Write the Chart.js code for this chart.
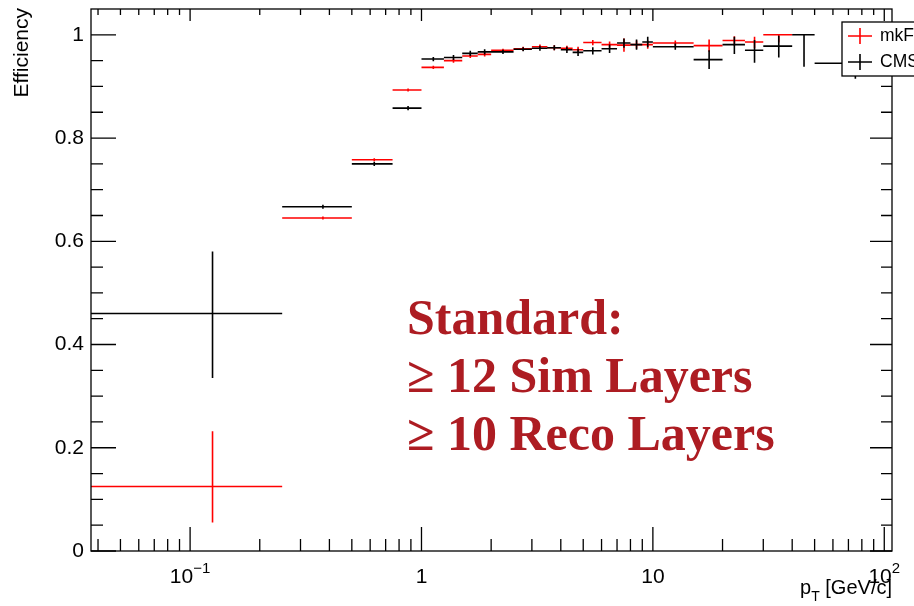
<!DOCTYPE html>
<html><head><meta charset="utf-8">
<script src="https://cdn.jsdelivr.net/npm/chart.js@4.4.1/dist/chart.umd.min.js"></script>
<style>html,body{margin:0;padding:0;background:#fff;overflow:hidden}#wrap{width:914px;height:606px}</style>
</head><body><div id="wrap"><canvas id="c" width="914" height="606"></canvas></div>
<script>
// ---- data ----
const binLow  = [0,0.25,0.5,0.75,1,1.25,1.5,1.75,2,2.5,3,3.5,4,4.5,5,6,7,8,9,10,15,20,25,30,40,50];
const binHigh = [0.25,0.5,0.75,1,1.25,1.5,1.75,2,2.5,3,3.5,4,4.5,5,6,7,8,9,10,15,20,25,30,40,50,100];

const mkFitEff     = [0.125,0.645,0.758,0.893,0.937,0.950,0.959,0.962,0.970,0.973,0.977,0.975,0.974,0.971,0.985,0.981,0.980,0.981,0.981,0.984,0.979,0.989,0.986,1.000,null,null];
const mkFitErrLow  = [0.070,0.003,0.003,0.003,0.003,0.004,0.004,0.004,0.003,0.004,0.004,0.005,0.005,0.006,0.005,0.006,0.013,0.008,0.008,0.005,0.012,0.010,0.012,0.015,null,null];
const mkFitErrHigh = [0.107,0.003,0.003,0.003,0.003,0.004,0.004,0.004,0.003,0.004,0.004,0.005,0.005,0.006,0.005,0.006,0.013,0.008,0.008,0.005,0.012,0.008,0.010,0.000,null,null];

const cmsswEff     = [0.460,0.667,0.750,0.858,0.953,0.956,0.964,0.967,0.967,0.972,0.974,0.975,0.971,0.966,0.969,0.973,0.984,0.981,0.986,0.977,0.952,0.981,0.970,0.978,1.000,0.945];
const cmsswErrLow  = [0.125,0.004,0.004,0.004,0.004,0.005,0.005,0.005,0.004,0.004,0.005,0.005,0.006,0.007,0.007,0.008,0.009,0.010,0.010,0.006,0.018,0.018,0.024,0.022,0.062,0.030];
const cmsswErrHigh = [0.120,0.004,0.004,0.004,0.004,0.005,0.005,0.005,0.004,0.004,0.005,0.005,0.006,0.007,0.007,0.008,0.009,0.010,0.010,0.006,0.018,0.015,0.020,0.020,0.000,0.030];

const seriesNames = ['mkFit','CMSSW'];
const xTickMajor  = [0.1,1,10,100];
const xTickLabels = ['10^{-1}','1','10','10^{2}'];
const xTickMinor  = [0.04,0.05,0.06,0.07,0.08,0.09,0.2,0.3,0.4,0.5,0.6,0.7,0.8,0.9,2,3,4,5,6,7,8,9,20,30,40,50,60,70,80,90];
const yTickMajor  = [0,0.2,0.4,0.6,0.8,1];
const yTickLabels = ['0','0.2','0.4','0.6','0.8','1'];
const yTickMinor  = [0.05,0.1,0.15,0.25,0.3,0.35,0.45,0.5,0.55,0.65,0.7,0.75,0.85,0.9,0.95];
const xTitle = ['p','T',' [GeV/c]'];
const yTitle = 'Efficiency';
const noteLines = ['Standard:','\u2265 12 Sim Layers','\u2265 10 Reco Layers'];

const X_MIN = 0.0373, X_MAX = 108, Y_MIN = 0, Y_MAX = 1.05;
const RED = '#ff0000', BLACK = '#000000', NOTE = '#ad1c22';

// ---- build datasets from arrays ----
function hSegs(eff){
  const d = [];
  eff.forEach((v,i)=>{ if(v==null) return;
    d.push({x:Math.max(binLow[i],X_MIN),y:v},{x:binHigh[i],y:v},{x:binHigh[i],y:null}); });
  return d;
}
function vSegs(eff,lo,hi){
  const d = [];
  eff.forEach((v,i)=>{ if(v==null) return;
    const c = (binLow[i]+binHigh[i])/2;
    d.push({x:c,y:v-lo[i]},{x:c,y:v+hi[i]},{x:c,y:null}); });
  return d;
}
const base = {type:'line',pointRadius:0,borderWidth:1.6,spanGaps:false,tension:0,fill:false};
const datasets = [
  Object.assign({},base,{label:seriesNames[1],data:hSegs(cmsswEff),borderColor:BLACK}),
  Object.assign({},base,{label:seriesNames[1]+'err',data:vSegs(cmsswEff,cmsswErrLow,cmsswErrHigh),borderColor:BLACK}),
  Object.assign({},base,{label:seriesNames[0],data:hSegs(mkFitEff),borderColor:RED}),
  Object.assign({},base,{label:seriesNames[0]+'err',data:vSegs(mkFitEff,mkFitErrLow,mkFitErrHigh),borderColor:RED})
];

const rootStyle = {
  id:'rootStyle',
  afterDatasetsDraw(chart){
    const {ctx, chartArea:a, scales:{x,y}} = chart;
    ctx.save();
    // frame
    ctx.strokeStyle='#000'; ctx.lineWidth=1.3;
    ctx.strokeRect(a.left,a.top,a.right-a.left,a.bottom-a.top);
    ctx.beginPath();
    xTickMajor.forEach(v=>{const p=x.getPixelForValue(v);
      ctx.moveTo(p,a.bottom);ctx.lineTo(p,a.bottom-24);ctx.moveTo(p,a.top);ctx.lineTo(p,a.top+12);});
    xTickMinor.forEach(v=>{const p=x.getPixelForValue(v);
      ctx.moveTo(p,a.bottom);ctx.lineTo(p,a.bottom-12);ctx.moveTo(p,a.top);ctx.lineTo(p,a.top+6);});
    yTickMajor.forEach(v=>{const p=y.getPixelForValue(v);
      ctx.moveTo(a.left,p);ctx.lineTo(a.left+25,p);ctx.moveTo(a.right,p);ctx.lineTo(a.right-22,p);});
    yTickMinor.forEach(v=>{const p=y.getPixelForValue(v);
      ctx.moveTo(a.left,p);ctx.lineTo(a.left+12,p);ctx.moveTo(a.right,p);ctx.lineTo(a.right-11,p);});
    ctx.stroke();

    // x tick labels (ROOT style with superscripts)
    ctx.fillStyle='#000'; ctx.textBaseline='alphabetic';
    xTickMajor.forEach((v,i)=>{
      const p=x.getPixelForValue(v);
      const m=xTickLabels[i].match(/^([^\^]*)(?:\^\{(.*)\})?$/);
      const b=m[1], e=(m[2]||'').replace('-','\u2212');
      ctx.font='21px "Liberation Sans", Arial, sans-serif';
      const wb=ctx.measureText(b).width;
      ctx.font='15px "Liberation Sans", Arial, sans-serif';
      const we=e?ctx.measureText(e).width:0;
      const left=p-(wb+we)/2;
      ctx.font='21px "Liberation Sans", Arial, sans-serif';
      ctx.textAlign='left'; ctx.fillText(b,left,583);
      if(e){ctx.font='15px "Liberation Sans", Arial, sans-serif'; ctx.fillText(e,left+wb,573);}
    });

    // x title
    ctx.font='20px "Liberation Sans", Arial, sans-serif';
    const w0=ctx.measureText(xTitle[0]).width, w2=ctx.measureText(xTitle[2]).width;
    ctx.font='14px "Liberation Sans", Arial, sans-serif';
    const w1=ctx.measureText(xTitle[1]).width;
    let xs=a.right-(w0+w1+w2);
    ctx.font='20px "Liberation Sans", Arial, sans-serif'; ctx.fillText(xTitle[0],xs,594);
    ctx.font='14px "Liberation Sans", Arial, sans-serif'; ctx.fillText(xTitle[1],xs+w0,601);
    ctx.font='20px "Liberation Sans", Arial, sans-serif'; ctx.fillText(xTitle[2],xs+w0+w1,594);

    // y title
    ctx.save(); ctx.translate(22,a.top-1); ctx.rotate(-Math.PI/2);
    ctx.font='21px "Liberation Sans", Arial, sans-serif'; ctx.textAlign='right'; ctx.textBaseline='middle';
    ctx.fillText(yTitle,0,0); ctx.restore();

    // legend
    ctx.fillStyle='#fff'; ctx.fillRect(842,22,100,54);
    ctx.strokeStyle='#000'; ctx.lineWidth=1.3; ctx.strokeRect(842,22,100,54);
    [[RED,36,seriesNames[0]],[BLACK,62,seriesNames[1]]].forEach(([c,yy,t])=>{
      ctx.strokeStyle=c; ctx.lineWidth=1.6; ctx.beginPath();
      ctx.moveTo(848,yy);ctx.lineTo(872,yy);ctx.moveTo(860,yy-8);ctx.lineTo(860,yy+8);ctx.stroke();
      ctx.fillStyle='#000'; ctx.font='17.5px "Liberation Sans", Arial, sans-serif';
      ctx.textAlign='left'; ctx.textBaseline='middle'; ctx.fillText(t,880,yy);
    });

    // annotation
    ctx.fillStyle=NOTE; ctx.font='bold 50px "Liberation Serif", "Times New Roman", serif';
    ctx.textAlign='left'; ctx.textBaseline='alphabetic';
    noteLines.forEach((t,i)=>ctx.fillText(t,407,334+i*58));
    ctx.restore();
  }
};

new Chart(document.getElementById('c'),{
  type:'line',
  data:{datasets},
  options:{
    responsive:false, animation:false, devicePixelRatio:1,
    layout:{padding:{top:9,right:22,left:0,bottom:0}},
    plugins:{legend:{display:false},tooltip:{enabled:false}},
    scales:{
      x:{type:'logarithmic',min:X_MIN,max:X_MAX,
        afterBuildTicks:s=>{s.ticks=xTickMajor.map(v=>({value:v}));},
        ticks:{display:false},grid:{display:false,drawTicks:false},border:{display:false},
        afterFit:s=>{s.height=55;s.paddingLeft=0;s.paddingRight=0;}},
      y:{type:'linear',min:Y_MIN,max:Y_MAX,
        afterBuildTicks:s=>{s.ticks=yTickMajor.map(v=>({value:v}));},
        ticks:{callback:(v,i)=>yTickLabels[i],color:'#000',padding:7,
          font:{family:'"Liberation Sans", Arial, sans-serif',size:21}},
        grid:{display:false,drawTicks:false},border:{display:false},
        afterFit:s=>{s.width=91;s.paddingTop=0;s.paddingBottom=0;}}
    }
  },
  plugins:[rootStyle]
});
</script></body></html>
